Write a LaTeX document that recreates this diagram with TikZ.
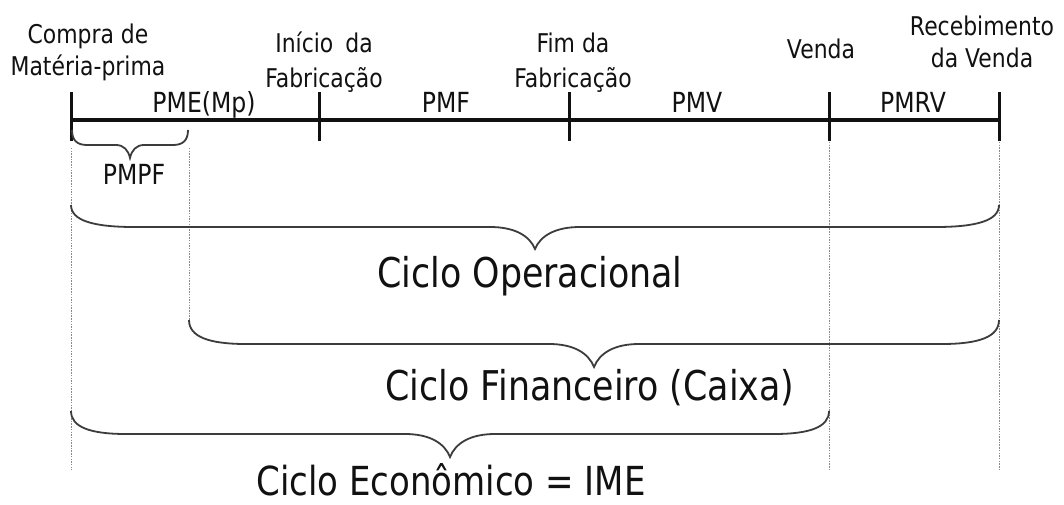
\documentclass[tikz,border=0pt]{standalone}
\usepackage{fontspec}
\setmainfont{DejaVu Sans}[FakeStretch=0.85]
\definecolor{inkc}{HTML}{111111}
\definecolor{bracec}{HTML}{3C3C3C}
\definecolor{dotc}{HTML}{8A8A8A}
\newcommand{\curlybrace}[7]{%
  \draw[bracestyle] (#1,#3) .. controls (#1,{#3+0.7*(#4-#3)}) and ({#1+0.35*#6},#4) .. ({#1+#6},#4)
    -- ({(#1+#2)/2-#7},#4) .. controls ({(#1+#2)/2-0.45*#7},#4) and ({(#1+#2)/2-0.12*#7},{#4+0.4*(#5-#4)}) .. ({(#1+#2)/2},#5)
    .. controls ({(#1+#2)/2+0.12*#7},{#4+0.4*(#5-#4)}) and ({(#1+#2)/2+0.45*#7},#4) .. ({(#1+#2)/2+#7},#4)
    -- ({#2-#6},#4) .. controls ({#2-0.35*#6},#4) and (#2,{#3+0.7*(#4-#3)}) .. (#2,#3);}
\begin{document}
\begin{tikzpicture}[x=1pt,y=-1pt,
  toplabel/.style={font=\fontsize{25.8}{32}\selectfont, align=center, inner sep=0pt, text=inkc},
  seglabel/.style={font=\fontsize{27.7}{32}\selectfont, anchor=base, inner sep=0pt, text=inkc},
  biglabel/.style={font=\fontsize{41}{48}\selectfont, anchor=base, inner sep=0pt, text=inkc},
  timeline/.style={line width=4pt, draw=inkc},
  tickmark/.style={line width=3pt, draw=inkc},
  bracestyle/.style={line width=1.8pt, draw=bracec},
  guide/.style={line width=1pt, draw=dotc, dash pattern=on 1.5pt off 1.2pt}]
\useasboundingbox (0,0) rectangle (1064,505);
\fill[white] (0,0) rectangle (1064,505);

% timeline points
\coordinate (t0) at (71,120.5);
\coordinate (t1) at (319,120.5);
\coordinate (t2) at (569,120.5);
\coordinate (t3) at (829,120.5);
\coordinate (t4) at (999,120.5);
\foreach \n/\x in {a0/71,a1/319,a2/569,a3/829,a4/999}{
  \coordinate (\n top) at (\x,92);
  \coordinate (\n bot) at (\x,141);
}

% dotted guides
\coordinate (g0a) at (71,148);  \coordinate (g0b) at (71,470);
\coordinate (g1a) at (189,148); \coordinate (g1b) at (189,320);
\coordinate (g3a) at (829,142); \coordinate (g3b) at (829,470);
\coordinate (g4a) at (999,142); \coordinate (g4b) at (999,470);
\draw[guide] (g0a) -- (g0b);
\draw[guide] (g1a) -- (g1b);
\draw[guide] (g3a) -- (g3b);
\draw[guide] (g4a) -- (g4b);

% timeline
\draw[timeline] (t0) -- (t4);
\foreach \n in {a0,a1,a2,a3,a4}{
  \draw[tickmark] (\n top) -- (\n bot);
}

% braces
\curlybrace{72}{188}{130}{145}{158}{15}{14}
\curlybrace{71}{999}{205}{227}{249}{63}{45}
\curlybrace{189}{999}{320}{344}{367}{57}{45}
\curlybrace{71}{829}{411}{434}{457}{55}{45}

% top labels
\node[toplabel] (compra) at (88,52.3) {Compra de\\Matéria-prima};
\node[toplabel, font=\fontsize{25.8}{35}\selectfont] (inicio) at (324,62.2) {Início\hspace{5pt} da\\Fabricação};
\node[toplabel, font=\fontsize{25.8}{35}\selectfont] (fim) at (573,62.7) {Fim da\\Fabricação};
\node[toplabel, anchor=base] (venda) at (821,59) {Venda};
\node[toplabel] (receb) at (982,42.2) {Recebimento\\da Venda};

% segment labels
\node[seglabel] (pme) at (204,113) {PME(Mp)};
\node[seglabel] (pmf) at (446,113) {PMF};
\node[seglabel] (pmv) at (697,113) {PMV};
\node[seglabel] (pmrv) at (913,113) {PMRV};
\node[seglabel] (pmpf) at (134,184) {PMPF};

% cycle labels
\node[biglabel] (operacional) at (530,287) {Ciclo Operacional};
\node[biglabel] (financeiro) at (590,400) {Ciclo Financeiro (Caixa)};
\node[biglabel, font=\fontsize{40}{48}\selectfont] (economico) at (451,495) {Ciclo Econômico = IME};
\end{tikzpicture}
\end{document}
